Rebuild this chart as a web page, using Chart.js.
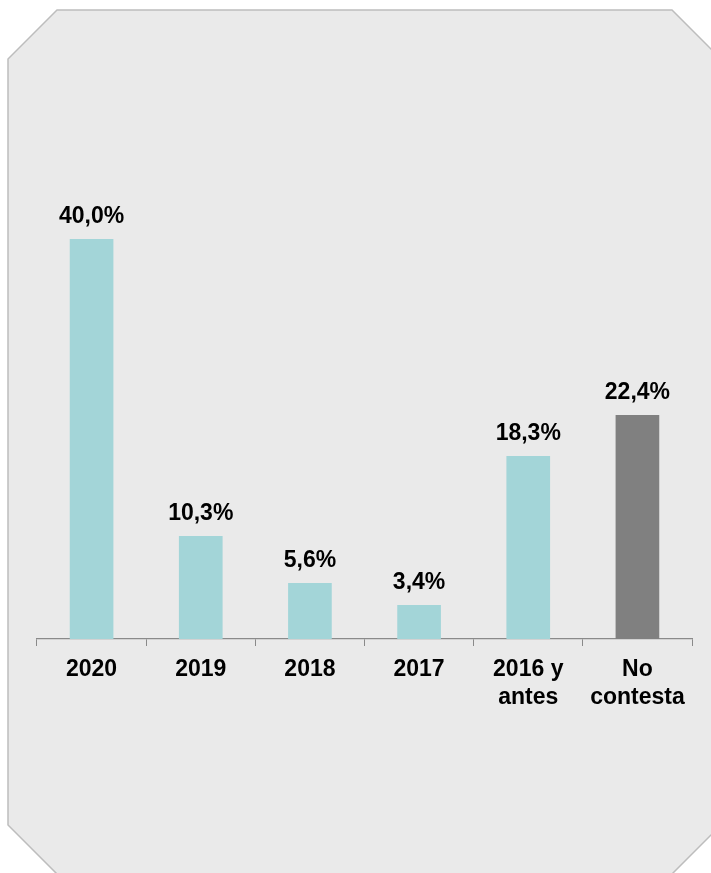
<!DOCTYPE html>
<html lang="es">
<head>
<meta charset="utf-8">
<title>Año</title>
<script src="https://cdn.jsdelivr.net/npm/chart.js@4/dist/chart.umd.min.js"></script>
<style>
    body { margin: 0; background: #ffffff; }
    #grafico { display: block; }
</style>
</head>
<body>
<canvas id="grafico" width="711" height="873"></canvas>
<script>
// Datos del gráfico
const categorias = ['2020', '2019', '2018', '2017', ['2016 y', 'antes'], ['No', 'contesta']];
const porcentajes = [40.0, 10.3, 5.6, 3.4, 18.3, 22.4];
const coloresBarras = ['#a3d5d8', '#a3d5d8', '#a3d5d8', '#a3d5d8', '#a3d5d8', '#808080'];

const fuente = 'Liberation Sans, Arial, sans-serif';

// Formato con coma decimal
function formatoPorcentaje(valor) {
    return valor.toFixed(1).replace('.', ',') + '%';
}

// Fondo con esquinas cortadas
const panelFondo = {
    id: 'panelFondo',
    beforeDraw(chart) {
        const ctx = chart.ctx;
        const puntos = [[57, 10], [672, 10], [721, 59], [721, 825], [672, 874], [57, 874], [8, 825], [8, 59]];
        ctx.save();
        ctx.beginPath();
        puntos.forEach((p, i) => i === 0 ? ctx.moveTo(p[0], p[1]) : ctx.lineTo(p[0], p[1]));
        ctx.closePath();
        ctx.fillStyle = '#eaeaea';
        ctx.fill();
        ctx.lineWidth = 1.5;
        ctx.strokeStyle = '#bdbdbd';
        ctx.stroke();
        ctx.restore();
    }
};

// Etiquetas de valor encima de cada barra
const etiquetasValor = {
    id: 'etiquetasValor',
    afterDatasetsDraw(chart) {
        const ctx = chart.ctx;
        const meta = chart.getDatasetMeta(0);
        ctx.save();
        ctx.font = 'bold 23px ' + fuente;
        ctx.fillStyle = '#000000';
        ctx.textAlign = 'center';
        ctx.textBaseline = 'alphabetic';
        meta.data.forEach((barra, i) => {
            ctx.fillText(formatoPorcentaje(porcentajes[i]), barra.x, barra.y - 16);
        });
        ctx.restore();
    }
};

new Chart(document.getElementById('grafico'), {
    type: 'bar',
    data: {
        labels: categorias,
        datasets: [{
            data: porcentajes,
            backgroundColor: coloresBarras,
            borderWidth: 0,
            barPercentage: 0.4,
            categoryPercentage: 1
        }]
    },
    options: {
        responsive: false,
        animation: false,
        devicePixelRatio: 1,
        layout: { padding: { top: 139, left: 37, right: 19, bottom: 134 } },
        plugins: {
            legend: { display: false },
            tooltip: { enabled: false }
        },
        scales: {
            x: {
                grid: {
                    offset: true,
                    drawOnChartArea: false,
                    drawTicks: true,
                    tickLength: 7,
                    color: '#8a8a8a'
                },
                border: { display: true, color: '#8a8a8a', width: 1.3 },
                ticks: {
                    color: '#000000',
                    padding: 10,
                    maxRotation: 0,
                    font: { family: fuente, size: 23, weight: 'bold', lineHeight: 1.2 }
                },
                afterFit(scale) { scale.height = 100; }
            },
            y: {
                display: false,
                min: 0,
                max: 50
            }
        }
    },
    plugins: [panelFondo, etiquetasValor]
});
</script>
</body>
</html>
